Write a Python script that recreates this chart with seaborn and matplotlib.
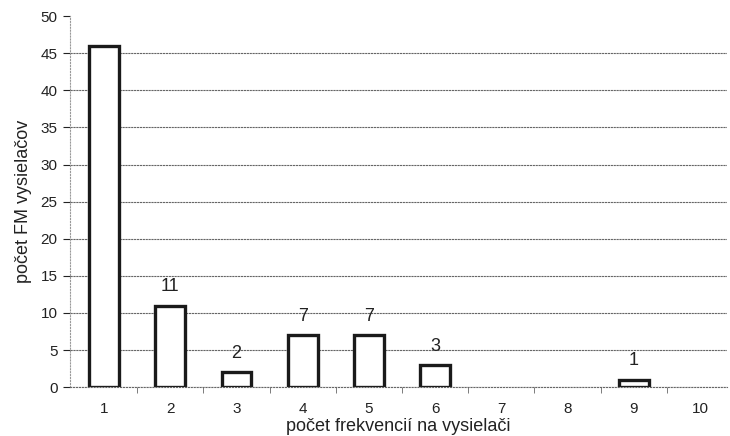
import numpy as np
import pandas as pd
import matplotlib.pyplot as plt
import seaborn as sns
from matplotlib.ticker import FixedLocator

# Data
pocet_frekvencii = ["1", "2", "3", "4", "5", "6", "7", "8", "9", "10"]
pocet_vysielacov = [46, 11, 2, 7, 7, 3, 0, 0, 1, 0]
popisky = ["", "11", "2", "7", "7", "3", "", "", "1", ""]

df = pd.DataFrame({"frekvencie": pocet_frekvencii, "vysielace": pocet_vysielacov})

sns.set_style("white")
plt.rcParams['font.family'] = ['Liberation Sans', 'DejaVu Sans']

fig = plt.figure(figsize=(7.3, 4.36), dpi=100)
ax = fig.add_axes([0.096, 0.112, 0.9, 0.851])

# Plot
sns.barplot(data=df, x="frekvencie", y="vysielace", color="white",
            edgecolor="#1a1a1a", linewidth=2.4, width=0.45, ax=ax,
            saturation=1)

# empty categories draw no bar outline
for p, v in zip(ax.patches, pocet_vysielacov):
    if v == 0:
        p.set_visible(False)

for i, (v, t) in enumerate(zip(pocet_vysielacov, popisky)):
    if t:
        ax.text(i, v + 1.4, t, ha="center", va="bottom", fontsize=13,
                color="#222222")

# Decorations
ax.set_ylim(0, 50)
ax.set_xlim(-0.513, 9.41)
ax.set_yticks(range(0, 51, 5))
ax.yaxis.grid(True, color="#666666", linewidth=0.8, linestyle=(0, (2, 0.6)))
ax.get_ygridlines()[-1].set_visible(False)
ax.set_axisbelow(True)
for s in ["top", "right"]:
    ax.spines[s].set_visible(False)
ax.spines["left"].set_color("#999999")
ax.spines["left"].set_linestyle(":")
ax.spines["bottom"].set_color("#666666")
ax.spines["bottom"].set_linestyle(":")

ax.tick_params(axis="x", length=0, pad=11, labelsize=11, colors="#222222")
ax.tick_params(axis="y", length=5, direction="out", labelsize=11,
               colors="#222222", left=True, pad=4)
ax.xaxis.set_minor_locator(FixedLocator(np.arange(0.5, 9.5, 1.0)))
ax.tick_params(axis="x", which="minor", length=4, direction="out",
               color="#666666", bottom=True)

ax.set_xlabel("počet frekvencií na vysielači", fontsize=13, labelpad=1,
              color="#222222")
ax.set_ylabel("počet FM vysielačov", fontsize=13, labelpad=6, color="#222222")

plt.savefig("out.png", dpi=100)
